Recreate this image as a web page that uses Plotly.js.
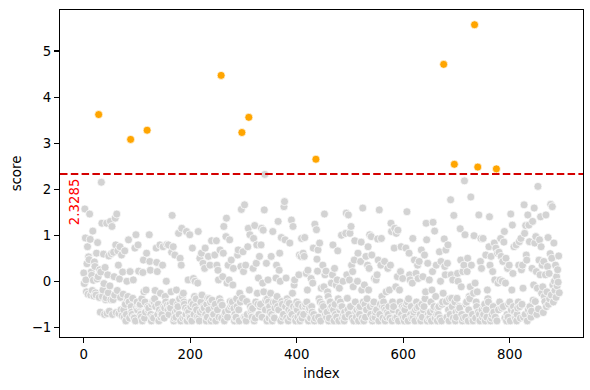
<!DOCTYPE html>
<html><head><meta charset="utf-8">
<script src="https://cdn.plot.ly/plotly-3.0.1.min.js"></script>
<style>html,body{margin:0;padding:0;background:#fff}#chart{width:590px;height:390px}</style>
</head><body><div id="chart"></div>
<script>
// score per index
const scoreA = [0.18,-0.05,1.57,0.94,0.03,-0.23,0.38,0.75,-0.28,0.53,
0.47,1.46,0.91,-0.3,0.2,0.13,-0.2,1.09,0.02,-0.32,
0.42,0.32,-0.25,-0.3,0.61,0.05,0.84,0.1,3.62,-0.35,
0.25,-0.67,0.2,2.15,1.26,-0.33,-0.19,0.59,-0.05,-0.72,
0.3,-0.4,-0.36,1.26,-0.7,0.14,-0.25,0.55,-0.65,-0.1,
1.3,-0.4,0.6,1.19,-0.72,-0.4,0.63,0.1,-0.3,1.37,
0.79,-0.68,1.46,-0.2,0.66,0.35,-0.7,0.05,0.75,-0.35,
-0.62,0.57,-0.75,0.2,-0.28];
const scoreB = [-0.62,-0.78,0.66,-0.5,-0.86,-0.72,0.0,-0.38,-0.33,0.9,
-0.45,-0.8,0.21,3.08,-0.55,-0.67,-0.72,-0.37,0.03,-0.78,
-0.8,0.72,-0.86,1.01,-0.58,-0.45,-0.62,0.79,0.22,-0.55,
-0.52,-0.5,-0.72,-0.78,-0.38,-0.86,0.19,0.46,-0.23,-0.8,
-0.45,-0.67,-0.19,0.61,3.28,-0.55,-0.62,-0.58,1.01,0.43,
0.24,-0.72,-0.86,-0.5,-0.78,-0.44,-0.8,-0.45,-0.38,-0.2,
-0.55,0.72,0.41,0.21,-0.72,-0.5,-0.86,-0.62,0.79,-0.26,
-0.78,-0.67,-0.72,0.35,0.75,-0.55,-0.8,-0.58,-0.33,-0.45,
0.0,0.8,-0.52,-0.62];
const scoreC = [0.79,-0.72,-0.55,-0.5,-0.58,-0.23,0.63,1.43,-0.45,0.75,
-0.86,-0.8,0.57,-0.67,-0.78,-0.19,-0.62,-0.5,-0.55,1.04,
-0.72,-0.38,0.5,-0.86,0.35,1.15,-0.33,-0.8,-0.26,-0.45,
-0.5,-0.78,-0.58,-0.72,1.08,-0.86,-0.62,0.03,-0.67,-0.78,
1.01,-0.8,-0.55,-0.45,-0.86,0.72,-0.5,0.06,-0.72,-0.33,
0.0,-0.55,-0.38,-0.62,-0.78,-0.04,1.08,-0.8,-0.86,0.5,
-0.67,-0.45,0.61,-0.3,-0.62,0.39,-0.55,-0.58,0.28,0.72,
-0.72,-0.86,-0.5,-0.78,-0.37,0.54,-0.62,-0.38,0.35,-0.45,
-0.86,0.88,-0.41,-0.8,-0.72];
const scoreD = [-0.72,-0.55,0.57,-0.5,-0.86,0.88,0.35,-0.62,0.24,0.03,
-0.78,-0.38,0.68,-0.45,4.47,-0.8,-0.52,0.1,0.61,1.19,
-0.86,-0.72,-0.67,0.97,1.37,-0.04,-0.78,0.35,-0.62,0.03,
0.9,-0.44,-0.55,0.46,-0.5,-0.45,-0.08,0.28,-0.59,-0.86,
-0.72,-0.8,-0.78,-0.38,-0.55,0.57,0.68,-0.62,-0.86,-0.26,
-0.45,0.32,1.56,3.23,-0.37,0.64,0.21,-0.78,1.66,-0.8,
0.35,-0.86,-0.44,-0.72,0.75,1.15,3.56,-0.19,1.01,-0.55,
-0.67,-0.62,-0.78,-0.59,0.28,0.93,-0.86,1.21,-0.8,-0.45,
0.39,0.79,-0.26,-0.5];
const scoreE = [0.07,-0.72,0.54,-0.55,-0.5,0.79,1.15,-0.78,-0.04,1.11,
-0.23,1.55,2.32,-0.62,-0.41,0.39,-0.86,-0.38,0.03,-0.45,
-0.8,-0.55,-0.67,-0.26,0.54,-0.72,-0.86,1.08,-0.46,-0.78,
-0.8,-0.58,-0.45,0.07,0.35,-0.33,-0.55,1.3,-0.62,0.24,
0.61,0.0,-0.86,0.95,-0.44,-0.5,-0.78,-0.72,1.62,1.73,
0.9,-0.55,0.07,-0.8,-0.38,-0.45,-0.86,-0.62,-0.48,0.83,
-0.78,-0.67,1.33,-0.72,-0.26,1.19,-0.55,-0.08,0.03,-0.8,
-0.86,-0.58,-0.45,-0.62,-0.78,-0.5,0.14,0.57,-0.86,-0.72,
0.54,0.93,-0.8,-0.55];
const scoreF = [0.61,-0.72,0.54,0.95,-0.55,-0.5,0.17,-0.45,-0.19,0.24,
-0.86,-0.62,-0.58,-0.78,-0.8,0.06,-0.55,-0.67,-0.04,0.72,
-0.72,-0.86,1.24,-0.8,2.65,1.12,0.48,0.22,0.68,-0.78,
-0.38,0.83,-0.45,-0.86,-0.15,-0.62,-0.5,0.35,-0.55,-0.12,
1.46,0.14,-0.72,0.22,-0.78,-0.67,-0.23,-0.33,-0.86,-0.8,
-0.44,-0.45,-0.58,-0.04,-0.55,0.14,0.79,-0.62,-0.86,0.28,
-0.5,-0.72,-0.08,-0.78,0.03,0.66,-0.38,-0.86,-0.15,-0.62,
-0.45,-0.55,1.0,-0.55,-0.8,0.0,-0.72,-0.86,-0.67,-0.78,
1.04,1.48,0.14,-0.37,-0.62];
const scoreG = [1.44,-0.72,0.03,1.04,-0.55,1.19,0.35,-0.8,0.21,-0.12,
-0.86,0.46,0.88,-0.45,-0.67,-0.78,-0.62,0.0,0.61,-0.86,
-0.58,-0.72,-0.55,0.43,0.85,-0.19,-0.8,1.59,-0.45,-0.86,
-0.08,-0.5,-0.78,0.54,-0.62,-0.38,0.35,0.75,-0.19,0.28,
1.01,-0.55,-0.72,0.97,0.57,-0.86,-0.8,-0.5,-0.45,0.06,
-0.78,-0.67,0.03,-0.62,0.14,0.92,0.46,-0.86,1.55,-0.72,
-0.5,0.35,0.93,-0.33,-0.55,-0.8,-0.45,-0.58,0.43,-0.86,
-0.62,-0.23,-0.78,-0.67,0.28,-0.72,-0.55,-0.19,-0.8,0.35,
1.26,1.08,-0.86,-0.45];
const scoreH = [-0.62,-0.55,0.72,1.15,-0.8,-0.12,1.04,-0.78,0.1,1.11,
-0.86,-0.67,-0.19,-0.45,0.21,0.75,-0.72,-0.55,0.06,-0.8,
-0.58,-0.86,-0.62,-0.78,0.72,-0.5,1.51,-0.45,-0.86,-0.38,
0.61,0.14,0.03,-0.72,-0.55,-0.8,-0.04,0.93,-0.78,-0.67,
0.46,-0.86,-0.62,0.17,-0.45,-0.58,0.35,0.06,-0.55,0.43,
-0.8,-0.72,-0.86,0.68,-0.5,-0.78,0.1,-0.62,-0.55,0.57,
-0.38,-0.23,1.26,0.9,-0.86,0.39,-0.72,-0.8,0.03,-0.78,
-0.67,-0.45,-0.86,-0.19,0.21,1.28,-0.62,-0.55,1.09,-0.8,
-0.33,0.35,-0.72,-0.86,-0.58];
const scoreI = [-0.72,-0.55,0.64,-0.8,0.0,0.43,-0.86,-0.5,-0.45,-0.26,
4.71,0.92,0.32,0.14,0.68,-0.44,-0.78,0.39,0.79,-0.62,
-0.86,-0.38,-0.72,1.77,0.14,-0.37,-0.55,0.03,-0.8,1.43,
2.54,-0.45,-0.86,-0.67,-0.78,-0.37,0.17,0.0,-0.62,-0.55,
-0.58,1.14,0.46,-0.12,-0.72,-0.86,0.21,-0.8,0.35,2.18,
1.01,-0.78,-0.5,-0.45,0.21,0.5,-0.86,-0.62,-0.33,-0.38,
-0.12,1.83,0.35,-0.78,-0.72,-0.86,-0.26,0.99,5.57,-0.04,
-0.8,-0.45,-0.55,-0.23,2.48,-0.67,1.44,-0.72,-0.86,0.43,
0.93,0.28,-0.62,-0.78];
const scoreJ = [0.93,-0.72,-0.55,-0.5,-0.86,0.57,-0.62,-0.78,-0.19,-0.38,
-0.45,0.75,1.4,0.35,-0.86,0.54,-0.8,-0.72,0.21,-0.55,
-0.67,0.83,0.03,-0.78,0.72,2.44,-0.86,0.61,-0.04,-0.62,
0.63,-0.45,0.03,0.93,0.54,-0.58,0.0,0.43,-0.55,0.85,
1.08,-0.8,-0.04,0.5,-0.86,-0.72,0.28,-0.78,-0.5,0.35,
-0.45,-0.86,1.46,-0.62,-0.19,1.22,0.17,-0.55,0.75,-0.67,
-0.78,-0.8,0.79,-0.86,-0.72,-0.58,-0.45,0.35,0.86,-0.55,
-0.8,0.93,0.25,-0.5,0.35,-0.15,-0.78,1.66,1.04,-0.72,
1.21,0.57,0.46,-0.86];
const scoreK = [1.44,-0.62,1.22,0.86,-0.55,-0.7,-0.78,-0.65,0.28,1.3,
-0.41,-0.08,1.59,0.83,-0.44,0.97,0.21,-0.72,-0.15,2.06,
-0.6,0.46,0.9,0.14,1.4,0.75,-0.26,0.35,-0.12,-0.68,
0.43,-0.33,-0.44,0.14,1.44,-0.55,-0.23,0.32,0.95,-0.5,
0.17,-0.38,0.6,1.67,-0.3,0.5,1.62,-0.08,-0.45,0.83,
0.0,-0.2,0.35,-0.35,0.1,-0.1,0.25,-0.02,0.55,-0.25];

const threshold = 2.3285;
const xTicks = [0, 200, 400, 600, 800];
const yTicks = [-1, 0, 1, 2, 3, 4, 5];

const score = [].concat(scoreA, scoreB, scoreC, scoreD, scoreE, scoreF, scoreG, scoreH, scoreI, scoreJ, scoreK);
const normX = [], normY = [], outX = [], outY = [];
score.forEach((v, i) => {
  if (v > threshold) { outX.push(i); outY.push(v); }
  else { normX.push(i); normY.push(v); }
});
const n = score.length - 1;

const font = {family: 'DejaVu Sans, sans-serif', size: 13.3, color: '#000'};
const mk = (c) => ({color: c, size: 8, line: {color: '#fff', width: 0.7}});

const data = [
  {type: 'scatter', mode: 'markers', x: normX, y: normY, marker: mk('#d3d3d3'), hoverinfo: 'skip'},
  {type: 'scatter', mode: 'markers', x: outX, y: outY, marker: mk('#ffa500'), hoverinfo: 'skip'}
];

const axisBase = {
  showline: true, mirror: true, linecolor: '#000', linewidth: 1.1,
  ticks: 'outside', ticklen: 5, tickwidth: 1.1, tickcolor: '#000',
  showgrid: false, zeroline: false, tickfont: font, automargin: false
};

const layout = {
  width: 590, height: 390,
  margin: {l: 60, r: 7, t: 10, b: 53},
  paper_bgcolor: '#fff', plot_bgcolor: '#fff',
  showlegend: false,
  font: font,
  xaxis: Object.assign({}, axisBase, {
    range: [-0.05 * n, 1.05 * n], tickvals: xTicks, ticktext: xTicks.map(String),
    title: {text: 'index', font: font, standoff: 7}
  }),
  yaxis: Object.assign({}, axisBase, {
    range: [-1.21, 5.89], tickvals: yTicks, ticktext: yTicks.map(v => v < 0 ? '\u2212' + Math.abs(v) : String(v)),
    title: {text: 'score', font: font, standoff: 7}
  }),
  shapes: [{
    type: 'line', xref: 'paper', x0: 0, x1: 1, yref: 'y', y0: threshold, y1: threshold,
    line: {color: '#d40000', width: 2, dash: '7.5px,3.3px'}, layer: 'above'
  }],
  annotations: [{
    xref: 'paper', x: 0.028, yref: 'y', y: threshold, yshift: -2,
    text: threshold.toFixed(4), textangle: -90, showarrow: false,
    xanchor: 'center', yanchor: 'top',
    font: {family: 'DejaVu Sans, sans-serif', size: 13.3, color: '#ff0000'}
  }]
};

Plotly.newPlot('chart', data, layout, {displayModeBar: false, staticPlot: true});
</script>
</body></html>
